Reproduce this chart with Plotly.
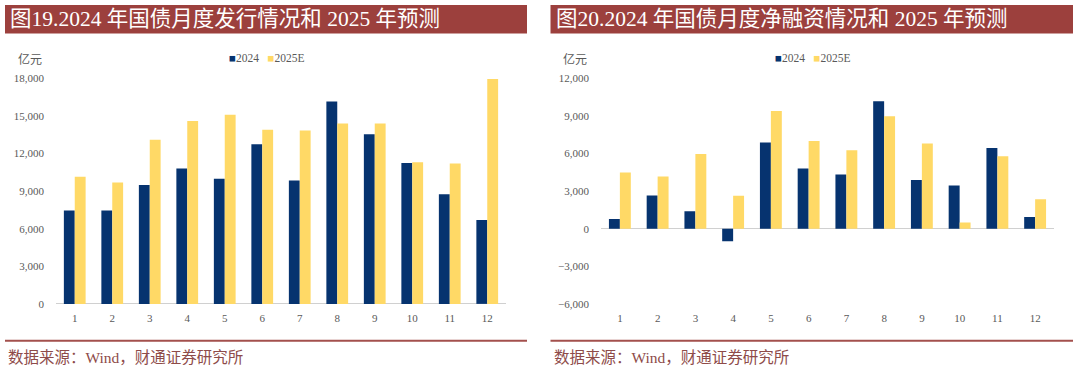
import plotly.graph_objects as go

months = [str(i) for i in range(1, 13)]
issue_2024 = [7450, 7450, 9500, 10800, 10000, 12750, 9850, 16150, 13550, 11250, 8750, 6700]
issue_2025e = [10150, 9700, 13100, 14600, 15100, 13900, 13850, 14400, 14400, 11300, 11200, 17950]
net_2024 = [770, 2650, 1400, -1000, 6880, 4800, 4320, 10180, 3900, 3450, 6450, 930]
net_2025e = [4480, 4180, 5970, 2640, 9400, 7000, 6270, 8980, 6800, 500, 5780, 2350]

left_ticks = [0, 3000, 6000, 9000, 12000, 15000, 18000]
right_ticks = [-6000, -3000, 0, 3000, 6000, 9000, 12000]

NAVY = "#06336F"
YELLOW = "#FFD966"
RED = "#9C403D"
GRAY = "#595959"
W, H = 1080, 376


def py(y_px):
    # pixel row (from top) -> paper fraction, compensating the observed vertical mapping
    return 1 - ((y_px - 7.6) / 0.961) / H


fig = go.Figure()
fig.add_trace(go.Bar(x=months, y=issue_2024, name="2024", marker=dict(color=NAVY, line=dict(width=0)),
                     xaxis="x", yaxis="y", showlegend=False))
fig.add_trace(go.Bar(x=months, y=issue_2025e, name="2025E", marker=dict(color=YELLOW, line=dict(width=0)),
                     xaxis="x", yaxis="y", showlegend=False))
fig.add_trace(go.Bar(x=months, y=net_2024, name="2024", marker=dict(color=NAVY, line=dict(width=0)),
                     xaxis="x2", yaxis="y2", showlegend=False))
fig.add_trace(go.Bar(x=months, y=net_2025e, name="2025E", marker=dict(color=YELLOW, line=dict(width=0)),
                     xaxis="x2", yaxis="y2", showlegend=False))

tickfont = dict(family="Liberation Serif, Noto Sans CJK SC", size=11, color=GRAY)
ydom = [py(303.3), py(79.5)]

def xax(domain, anchor):
    return dict(domain=domain, anchor=anchor, type="category", showgrid=False, showline=False,
                zeroline=False, ticks="", tickfont=tickfont, ticklabelstandoff=6, fixedrange=True)

def yax(domain, anchor, rng, ticks):
    return dict(domain=domain, anchor=anchor, range=rng, tickvals=ticks, tickformat=",d",
                showgrid=False, showline=False, zeroline=True, zerolinecolor="#D0D0D0",
                zerolinewidth=1, ticks="", tickfont=tickfont, ticklabelstandoff=11)

fig.update_layout(
    width=W, height=H,
    margin=dict(l=0, r=0, t=0, b=0),
    paper_bgcolor="white", plot_bgcolor="white",
    barmode="group", bargap=0.42, bargroupgap=0,
    xaxis=xax([56 / W, 506 / W], "y"),
    yaxis=yax(ydom, "x", [0, 18000], left_ticks),
    xaxis2=xax([601 / W, 1054 / W], "y2"),
    yaxis2=yax(ydom, "x2", [-6000, 12000], right_ticks),
)

shapes = []
annotations = []
panels = [
    (5, 527, "图19.2024 年国债月度发行情况和 2025 年预测", 44, 227),
    (550.5, 1073, "图20.2024 年国债月度净融资情况和 2025 年预测", 589, 773),
]
for x0, x1, title, unit_x, leg_x in panels:
    shapes.append(dict(type="rect", xref="paper", yref="paper", x0=x0 / W, x1=x1 / W,
                       y0=py(35), y1=py(6.5), fillcolor=RED, line=dict(width=0), layer="below"))
    shapes.append(dict(type="line", xref="paper", yref="paper", x0=x0 / W, x1=x1 / W,
                       y0=py(340), y1=py(340), line=dict(color="#A3504D", width=2)))
    annotations.append(dict(text=title, xref="paper", yref="paper", x=(x0 + 3) / W, y=py(21),
                            xanchor="left", yanchor="middle", showarrow=False,
                            font=dict(family="Liberation Serif, Noto Sans CJK SC", size=21.5, color="white")))
    annotations.append(dict(text="数据来源：Wind，财通证券研究所", xref="paper", yref="paper",
                            x=(x0 + 1) / W, y=py(357), xanchor="left", yanchor="middle", showarrow=False,
                            font=dict(family="Liberation Serif, Noto Sans CJK SC", size=15.5, color="#8E4B49")))
    annotations.append(dict(text="亿元", xref="paper", yref="paper", x=unit_x / W, y=py(60),
                            xanchor="right", yanchor="middle", showarrow=False,
                            font=dict(family="Noto Sans CJK SC", size=12, color=GRAY)))
    annotations.append(dict(
        text=f"<span style='color:{NAVY}'>■</span>2024&nbsp;&nbsp;&nbsp;<span style='color:{YELLOW}'>■</span>2025E",
        xref="paper", yref="paper", x=leg_x / W, y=py(59), xanchor="left", yanchor="middle",
        showarrow=False, font=dict(family="Liberation Serif, DejaVu Sans", size=11.5, color=GRAY)))

fig.update_layout(shapes=shapes, annotations=annotations)
fig.write_html(
    "out.html",
    config={"responsive": False, "displayModeBar": False},
    post_script=(
        "var s=document.documentElement.style;s.margin='0';s.padding='0';s.overflow='hidden';"
        "var b=document.body.style;b.margin='0';b.padding='0';b.overflow='hidden';"
    ),
)
